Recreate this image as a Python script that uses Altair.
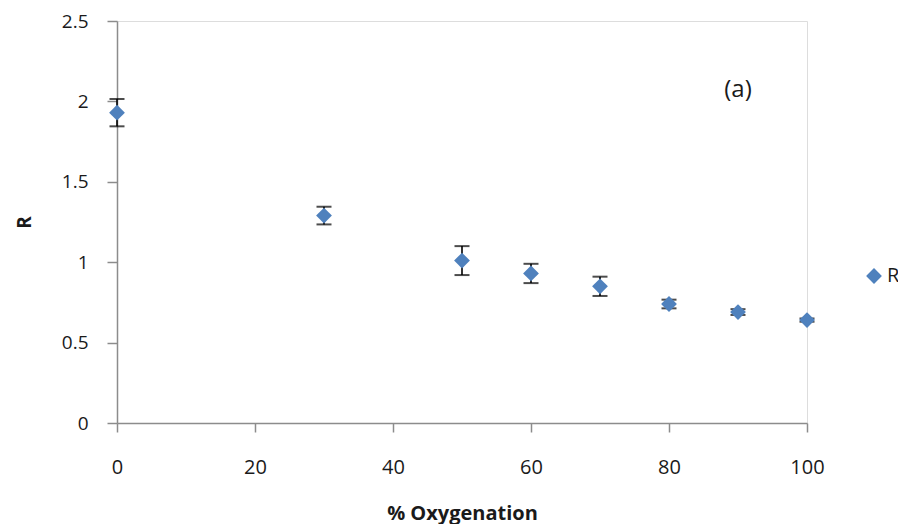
import altair as alt
import pandas as pd

# ---- data ----
oxygenation = [0, 30, 50, 60, 70, 80, 90, 100]
r_values = [1.93, 1.29, 1.01, 0.93, 0.85, 0.74, 0.69, 0.64]
r_errors = [0.085, 0.055, 0.09, 0.06, 0.06, 0.027, 0.018, 0.01]
series_name = "R"
x_ticks = [0, 20, 40, 60, 80, 100]
y_ticks = [0, 0.5, 1, 1.5, 2, 2.5]
panel_label = "(a)"
panel_label_pos = (90, 2.07)

df = pd.DataFrame({
    "x": oxygenation,
    "r": r_values,
    "lo": [v - e for v, e in zip(r_values, r_errors)],
    "hi": [v + e for v, e in zip(r_values, r_errors)],
    "series": [series_name] * len(oxygenation),
})
lab = pd.DataFrame({"x": [panel_label_pos[0]], "y": [panel_label_pos[1]], "t": [panel_label]})

FONT = "Open Sans"
AXIS_GRAY = "#8c8c8c"
TXT = "#1a1a1a"

x_enc = alt.X(
    "x:Q",
    scale=alt.Scale(domain=[0, 100], nice=False, zero=False),
    axis=alt.Axis(
        values=x_ticks, title="% Oxygenation", grid=False, labelFlush=False,
        domainColor=AXIS_GRAY, domainWidth=1.5, tickColor=AXIS_GRAY, tickWidth=1.5,
        tickSize=9, labelPadding=25, labelFontSize=20, labelFont=FONT, labelColor=TXT,
        titleFont=FONT, titleFontSize=20, titleFontWeight="bold", titleColor=TXT,
        titleX=345, titleY=90, titleBaseline="middle", titleAlign="center",
    ),
)
y_enc = alt.Y(
    "r:Q",
    scale=alt.Scale(domain=[0, 2.5], nice=False),
    axis=alt.Axis(
        values=y_ticks, format="~g", title="R", grid=False, labelFlush=False,
        domainColor=AXIS_GRAY, domainWidth=1.5, tickColor=AXIS_GRAY, tickWidth=1.5,
        tickSize=10, labelPadding=19, labelFontSize=19, labelFont=FONT, labelColor=TXT,
        titleFont=FONT, titleFontSize=19, titleFontWeight="bold", titleColor=TXT,
        titleX=-93, titleY=201, titleAngle=-90, titleBaseline="middle", titleAlign="center",
    ),
)

base = alt.Chart(df)

rules = base.mark_rule(color="black", strokeWidth=1.6).encode(
    x=x_enc, y=alt.Y("lo:Q", scale=alt.Scale(domain=[0, 2.5], nice=False)), y2="hi:Q"
)
caps_hi = base.mark_tick(orient="horizontal", color="black", size=15, thickness=2).encode(
    x="x:Q", y="hi:Q"
)
caps_lo = base.mark_tick(orient="horizontal", color="black", size=15, thickness=2).encode(
    x="x:Q", y="lo:Q"
)
points = base.mark_point(shape="diamond", filled=True, size=250, opacity=1).encode(
    x=x_enc,
    y=y_enc,
    color=alt.Color(
        "series:N",
        scale=alt.Scale(range=["#4F81BD"]),
        legend=alt.Legend(
            title=None, orient="none", legendX=747, legendY=245, padding=0,
            symbolType="diamond", symbolSize=250, symbolStrokeWidth=0,
            labelFont=FONT, labelFontSize=20, labelColor=TXT, labelOffset=3,
        ),
    ),
)
text = alt.Chart(lab).mark_text(font=FONT, fontSize=24, color=TXT).encode(
    x="x:Q", y="y:Q", text="t:N"
)

chart = alt.layer(rules, caps_hi, caps_lo, points, text).properties(
    width=690, height=402,
    autosize=alt.AutoSizeParams(type="none"),
    padding={"left": 109, "top": 13, "right": 91, "bottom": 101},
).configure_view(stroke=None).configure(background="white")

chart.save("out.html", embed_options={"renderer": "svg", "actions": False})
